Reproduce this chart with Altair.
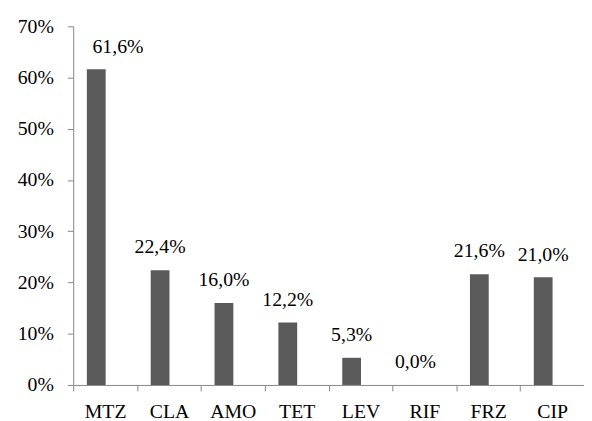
import altair as alt
import pandas as pd

categories = ["MTZ", "CLA", "AMO", "TET", "LEV", "RIF", "FRZ", "CIP"]
values = [61.6, 22.4, 16.0, 12.2, 5.3, 0.0, 21.6, 21.0]

df = pd.DataFrame({
    "cat": categories,
    "val": [v / 100 for v in values],
    "label": [f"{v:.1f}%".replace(".", ",") for v in values],
})

FONT = "Liberation Serif"
FS = 20
AX = "#868686"

x = alt.X("cat:N", sort=categories, title=None,
          scale=alt.Scale(paddingInner=0, paddingOuter=0),
          axis=alt.Axis(labelAngle=0, tickBand="extent", domainColor=AX, tickColor=AX,
                        tickSize=6, labelPadding=11, labelFont=FONT, labelFontSize=FS,
                        labelColor="black"))
y = alt.Y("val:Q", title=None,
          scale=alt.Scale(domain=[0, 0.7], nice=False),
          axis=alt.Axis(format=".0%", values=[0, .1, .2, .3, .4, .5, .6, .7], grid=False,
                        domainColor=AX, tickColor=AX, tickSize=6, labelPadding=14,
                        labelFont=FONT, labelFontSize=FS, labelColor="black"))

base = alt.Chart(df)
bars = base.mark_bar(color="#5a5a5a", width=19, xOffset=-9).encode(x=x, y=y)
labels = base.transform_filter("datum.cat != 'MTZ'").mark_text(
    font=FONT, fontSize=FS, baseline="middle", dy=-23, dx=-9, color="black"
).encode(x=x, y=y, text="label:N")
label_mtz = base.transform_filter("datum.cat == 'MTZ'").mark_text(
    font=FONT, fontSize=FS, baseline="middle", dy=-23, dx=13, color="black"
).encode(x=x, y=y, text="label:N")

chart = (bars + labels + label_mtz).properties(
    width=517, height=363,
    autosize=alt.AutoSizeParams(type="none"),
    padding={"left": 66, "top": 16, "right": 0, "bottom": 38},
).configure_view(stroke=None)

chart.save("out.html", embed_options={"renderer": "svg", "actions": False})
